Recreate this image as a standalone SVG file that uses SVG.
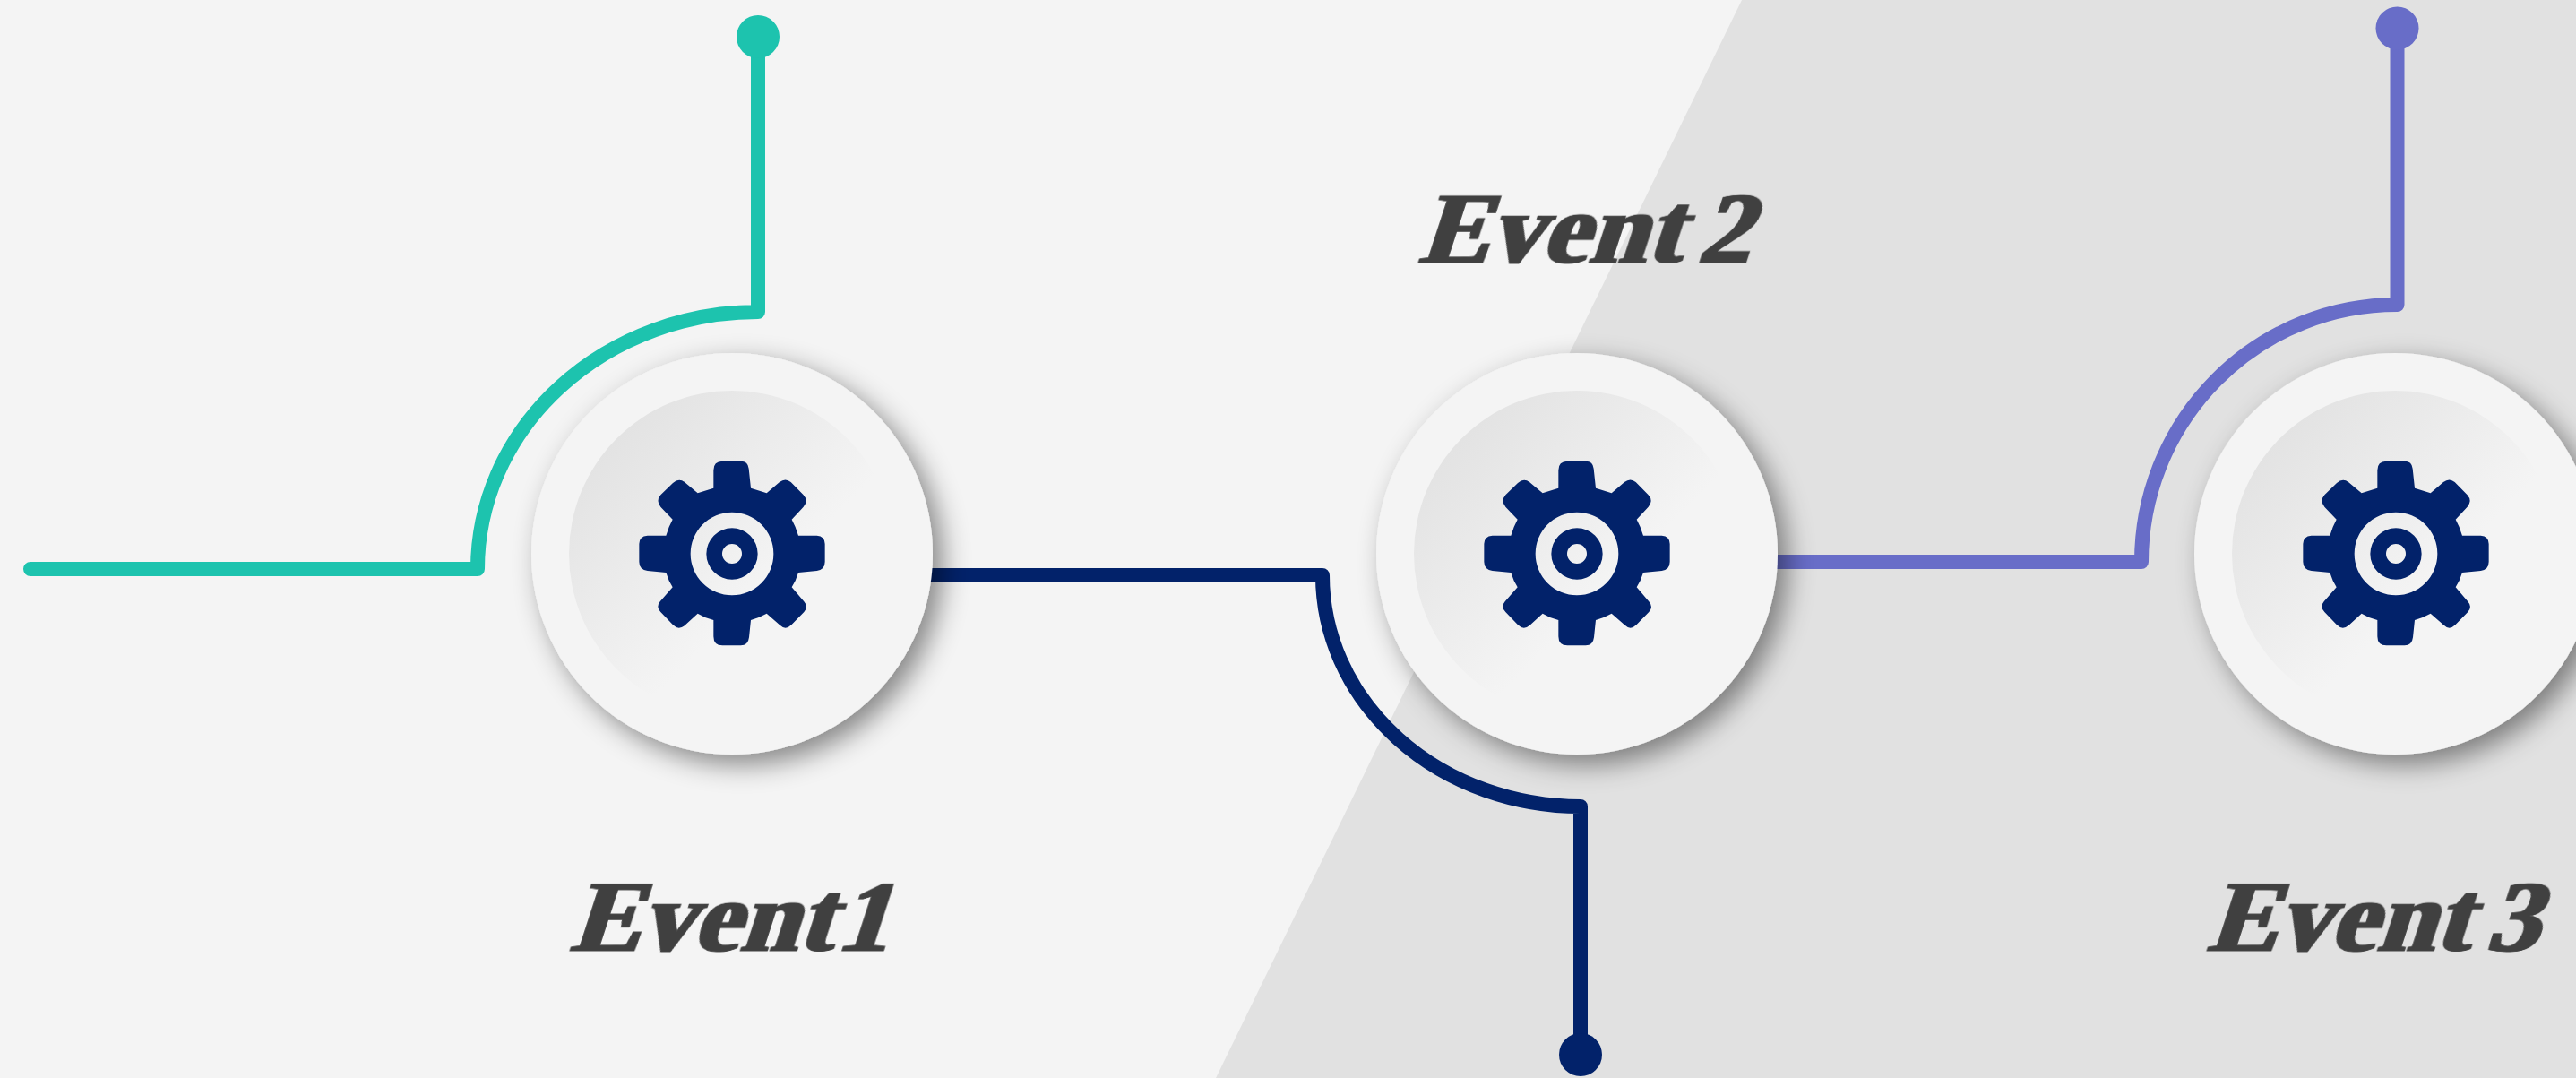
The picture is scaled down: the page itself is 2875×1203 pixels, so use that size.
<svg xmlns="http://www.w3.org/2000/svg" xmlns:xlink="http://www.w3.org/1999/xlink" width="2875" height="1203" viewBox="0 0 2875 1203">
<style>
.wire{fill:none;stroke-width:16;stroke-linejoin:round;stroke-linecap:round}
.label{font-family:"Liberation Serif","DejaVu Serif",serif;font-weight:700;font-size:112px;letter-spacing:1px;word-spacing:-12px;fill:#404040;stroke:#404040;stroke-width:0.8px;filter:url(#fat)}
.tight{word-spacing:-26px}
.outer{fill:#f4f4f4;filter:url(#shadow)}
.inner{fill:url(#well)}
.gear{fill:#02226a;fill-rule:evenodd}
</style>
<defs>
<linearGradient id="well" x1="0.146" y1="0.146" x2="0.6" y2="0.6">
<stop offset="0" stop-color="#e3e3e3"/><stop offset="1" stop-color="#f4f4f4"/>
</linearGradient>
<filter id="shadow" x="-25%" y="-25%" width="150%" height="150%">
<feDropShadow dx="11" dy="11" stdDeviation="15" flood-color="#000" flood-opacity="0.45"/>
</filter>
<filter id="fat" x="-10%" y="-10%" width="120%" height="120%">
<feMorphology operator="dilate" radius="1.700 0"/>
</filter>
<path id="gearShape" class="gear" transform="scale(0.3333) translate(-411,-385)" d="M349 105Q349 75 379 75H440Q465 75 467 100L474 165L527 182L570 145Q590 130 608 145L650 188Q668 208 650 228L611 270Q625 295 633 324H695Q722 326 722 352V412Q722 438 695 442L633 448Q625 475 611 497L652 545Q668 563 652 580L610 623Q590 643 570 623L527 585Q500 600 474 607L468 665Q465 692 440 692H379Q349 692 349 662V607Q320 600 296 585L255 623Q233 643 213 623L172 580Q155 563 170 545L212 497Q198 475 190 448L128 442Q100 438 100 412V352Q100 326 128 324H190Q198 295 212 270L172 228Q155 208 172 188L213 148Q233 130 252 145L296 182L349 165ZM272 385A139 139 0 1 0 550 385A139 139 0 1 0 272 385ZM325 385A86 86 0 1 1 497 385A86 86 0 1 1 325 385ZM378 385A33 33 0 1 0 444 385A33 33 0 1 0 378 385Z"/>
</defs>
<rect id="background" width="2875" height="1203" fill="#f4f4f4"/>
<polygon id="panel" points="1944,0 2875,0 2875,1203 1357,1203" fill="#e1e1e1"/>
<g id="connectors">
<path class="wire" stroke="#1dc3ae" d="M34 635H533A313 287 0 0 1 846 348V41"/>
<circle cx="846" cy="41" r="24" fill="#1dc3ae"/>
<path class="wire" stroke="#02226a" d="M1030 642H1476A288 258 0 0 0 1764 900V1177"/>
<circle cx="1764" cy="1177" r="24" fill="#02226a"/>
<path class="wire" stroke="#686dc8" d="M1970 627H2390A285 287 0 0 1 2675.500 340V32"/>
<circle cx="2675.500" cy="31.500" r="24" fill="#686dc8"/>
</g>
<g id="node1">
<circle class="outer" cx="817" cy="618" r="224"/>
<circle class="inner" cx="817" cy="618" r="182"/>
<use xlink:href="#gearShape" x="817" y="618"/>
<text class="label tight" transform="translate(636,1061) skewX(-18) scale(1.03,1)">Event 1</text>
</g>
<g id="node2">
<circle class="outer" cx="1760" cy="618" r="224"/>
<circle class="inner" cx="1760" cy="618" r="182"/>
<use xlink:href="#gearShape" x="1760" y="618"/>
<text class="label" transform="translate(1583,293) skewX(-18) scale(1.03,1)">Event 2</text>
</g>
<g id="node3">
<circle class="outer" cx="2673" cy="618" r="224"/>
<circle class="inner" cx="2673" cy="618" r="182"/>
<use xlink:href="#gearShape" x="2674" y="618"/>
<text class="label" transform="translate(2463,1061) skewX(-18) scale(1.03,1)">Event 3</text>
</g>
</svg>
